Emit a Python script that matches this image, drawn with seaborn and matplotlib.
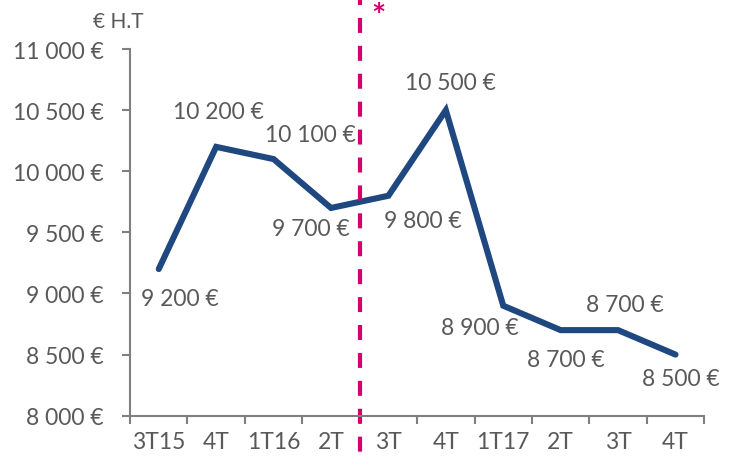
import numpy as np
import matplotlib
matplotlib.use("Agg")
import matplotlib.pyplot as plt
import seaborn as sns
from matplotlib.ticker import FixedLocator, FuncFormatter

# data
quarters = ["3T15", "4T", "1T16", "2T", "3T", "4T", "1T17", "2T", "3T", "4T"]
sales = [9200, 10200, 10100, 9700, 9800, 10500, 8900, 8700, 8700, 8500]
# label offsets in pixels (dx, dy) relative to each point
label_dx = [21, 2, 37, -20, 34, 5, -23, 5, 7, 5]
label_dy = [-29, 35, 25, -21, -25, 28, -22, -29, 26, -24]

sns.set_theme(style="white")
plt.rcParams["font.family"] = ["Lato", "DejaVu Sans"]

grey = "#595959"
axis_grey = "#7f7f7f"
blue = "#1f4780"
pink = "#d4006c"

fig = plt.figure(figsize=(7.38, 4.64), dpi=100)
ax = fig.add_axes([0.1762, 0.102, 0.778, 0.790])

pos = np.arange(len(quarters))
sns.lineplot(x=pos, y=sales, ax=ax, color=blue, linewidth=4.4,
             solid_capstyle="round", solid_joinstyle="miter")

for i, v in enumerate(sales):
    lbl = f"{v:,} €".replace(",", " ")
    ax.annotate(lbl, (pos[i], v), xytext=(label_dx[i], label_dy[i]),
                textcoords="offset pixels", ha="center", va="center",
                fontsize=16.5, color=grey)

ax.set_xlim(-0.5, len(quarters) - 0.5)
ax.set_ylim(8000, 11000)

# y axis
ax.yaxis.set_major_locator(FixedLocator(np.arange(8000, 11001, 500)))
ax.yaxis.set_major_formatter(FuncFormatter(lambda v, p: f"{int(v):,} €".replace(",", " ")))

# x axis: ticks at category boundaries, labels at centres
ax.xaxis.set_major_locator(FixedLocator(np.arange(-0.5, len(quarters), 1)))
ax.xaxis.set_major_formatter(FuncFormatter(lambda v, p: ""))
ax.xaxis.set_minor_locator(FixedLocator(pos))
ax.set_xticklabels(quarters, minor=True)
ax.tick_params(axis="x", which="minor", bottom=True, length=0, pad=11,
               labelsize=16.5, labelcolor=grey)
ax.tick_params(axis="x", which="major", bottom=True, length=6, width=1.5,
               color=axis_grey, direction="out")
ax.tick_params(axis="y", left=True, length=6, width=1.5, color=axis_grey,
               labelsize=16.5, labelcolor=grey, pad=13, direction="out")

for s in ["top", "right"]:
    ax.spines[s].set_visible(False)
for s in ["left", "bottom"]:
    ax.spines[s].set_color(axis_grey)
    ax.spines[s].set_linewidth(1.5)

ax.set_xlabel("")
ax.set_ylabel("")

# dashed marker between 2T and 3T
ax.axvline(3.5, ymin=-0.12, ymax=1.14, color=pink, linewidth=3,
           linestyle=(-2, (3.6, 3.1)), clip_on=False)
ax.text(3.83, 1.09, "*", transform=ax.get_xaxis_transform(), color=pink,
        fontsize=24, fontweight="bold", ha="center", va="center")

fig.text(118 / 738, 1 - 22 / 464, "€ H.T", color=grey, fontsize=15,
         ha="center", va="center")

fig.savefig("out.png", dpi=100)
